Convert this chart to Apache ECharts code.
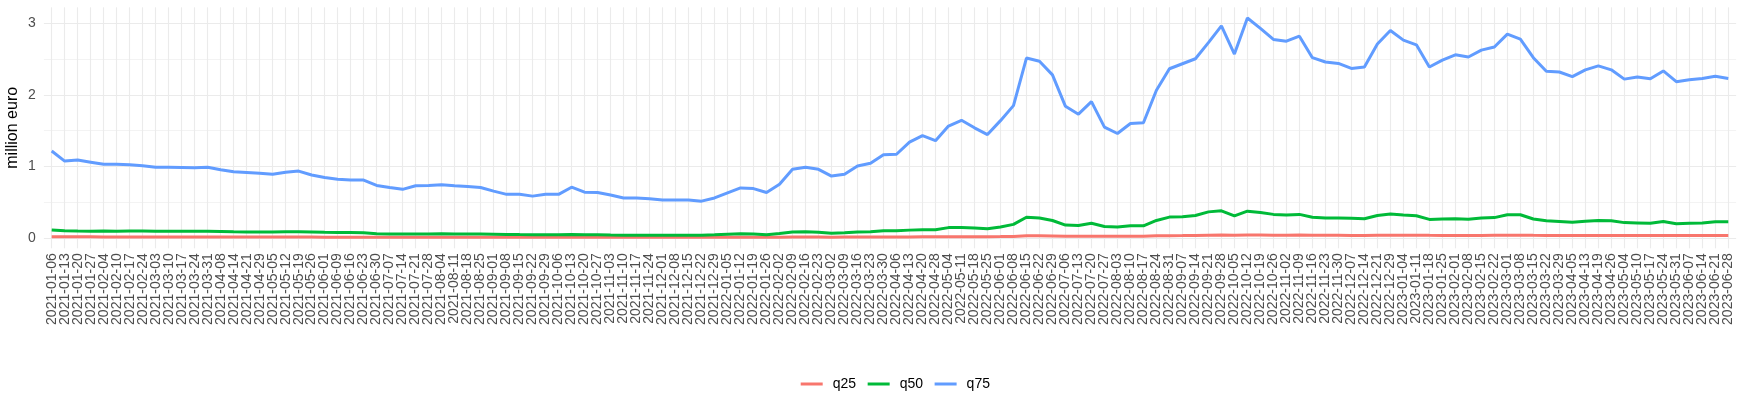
<!DOCTYPE html>
<html>
<head>
<meta charset="utf-8">
<script src="https://cdn.jsdelivr.net/npm/echarts@6/dist/echarts.min.js"></script>
<style>
html,body{margin:0;padding:0;background:#fff;}
#chart{width:1743px;height:414px;}
</style>
</head>
<body>
<div id="chart"></div>
<script>
const dates = [
"2021-01-06","2021-01-13","2021-01-20","2021-01-27","2021-02-04","2021-02-10","2021-02-17","2021-02-24",
"2021-03-03","2021-03-10","2021-03-17","2021-03-24","2021-03-31","2021-04-08","2021-04-14","2021-04-21","2021-04-29",
"2021-05-05","2021-05-12","2021-05-19","2021-05-26","2021-06-01","2021-06-09","2021-06-16","2021-06-23","2021-06-30",
"2021-07-07","2021-07-14","2021-07-21","2021-07-28","2021-08-04","2021-08-11","2021-08-18","2021-08-25",
"2021-09-01","2021-09-08","2021-09-15","2021-09-22","2021-09-29","2021-10-06","2021-10-13","2021-10-20","2021-10-27",
"2021-11-03","2021-11-10","2021-11-17","2021-11-24","2021-12-01","2021-12-08","2021-12-15","2021-12-22","2021-12-29",
"2022-01-05","2022-01-12","2022-01-19","2022-01-26","2022-02-02","2022-02-09","2022-02-16","2022-02-23",
"2022-03-02","2022-03-09","2022-03-16","2022-03-23","2022-03-30","2022-04-06","2022-04-13","2022-04-20","2022-04-28",
"2022-05-04","2022-05-11","2022-05-18","2022-05-25","2022-06-01","2022-06-08","2022-06-15","2022-06-22","2022-06-29",
"2022-07-06","2022-07-13","2022-07-20","2022-07-27","2022-08-03","2022-08-10","2022-08-17","2022-08-24","2022-08-31",
"2022-09-07","2022-09-14","2022-09-21","2022-09-28","2022-10-05","2022-10-12","2022-10-19","2022-10-26",
"2022-11-02","2022-11-09","2022-11-16","2022-11-23","2022-11-30","2022-12-07","2022-12-14","2022-12-21","2022-12-29",
"2023-01-04","2023-01-11","2023-01-18","2023-01-25","2023-02-01","2023-02-08","2023-02-15","2023-02-22",
"2023-03-01","2023-03-08","2023-03-15","2023-03-22","2023-03-29","2023-04-05","2023-04-13","2023-04-19","2023-04-26",
"2023-05-04","2023-05-10","2023-05-17","2023-05-24","2023-05-31","2023-06-07","2023-06-14","2023-06-21","2023-06-28"
];

const q25 = [
0.018,0.016,0.016,0.016,0.015,0.015,0.015,0.015,0.015,0.015,0.015,0.015,0.015,0.014,0.013,0.013,0.013,
0.013,0.014,0.014,0.013,0.012,0.012,0.012,0.012,0.011,0.010,0.010,0.010,0.010,0.010,0.010,0.010,0.010,
0.010,0.010,0.010,0.010,0.010,0.010,0.011,0.010,0.010,0.010,0.010,0.010,0.010,0.010,0.010,0.010,0.010,0.010,
0.011,0.011,0.011,0.011,0.012,0.013,0.013,0.013,0.012,0.013,0.014,0.014,0.014,0.015,0.015,0.016,0.016,
0.018,0.019,0.019,0.019,0.020,0.022,0.030,0.030,0.028,0.025,0.024,0.025,0.023,0.023,0.024,0.025,0.030,
0.033,0.034,0.036,0.040,0.042,0.038,0.042,0.041,0.040,0.040,0.041,0.038,0.037,0.037,0.036,0.036,0.038,0.040,
0.040,0.039,0.037,0.036,0.036,0.036,0.036,0.038,0.040,0.040,0.037,0.035,0.034,0.034,0.034,0.035,0.035,
0.034,0.034,0.034,0.035,0.034,0.034,0.034,0.035,0.035
];

const q50 = [
0.112,0.100,0.097,0.096,0.097,0.096,0.098,0.097,0.096,0.096,0.095,0.095,0.094,0.090,0.086,0.085,0.085,
0.085,0.087,0.088,0.084,0.080,0.077,0.076,0.074,0.060,0.056,0.055,0.056,0.057,0.058,0.056,0.055,0.055,
0.054,0.050,0.048,0.047,0.046,0.046,0.048,0.045,0.045,0.042,0.040,0.040,0.039,0.038,0.038,0.038,0.038,0.044,
0.052,0.058,0.055,0.047,0.063,0.085,0.086,0.080,0.066,0.075,0.085,0.086,0.100,0.101,0.110,0.115,0.115,
0.145,0.145,0.140,0.130,0.155,0.190,0.290,0.280,0.245,0.180,0.175,0.205,0.160,0.155,0.170,0.170,0.245,
0.292,0.298,0.315,0.365,0.380,0.310,0.375,0.355,0.330,0.320,0.330,0.290,0.280,0.280,0.275,0.270,0.315,0.335,
0.320,0.310,0.260,0.265,0.270,0.262,0.280,0.285,0.325,0.325,0.265,0.240,0.230,0.220,0.235,0.245,0.240,
0.215,0.210,0.205,0.230,0.200,0.205,0.210,0.228,0.228
];

const q75 = [
1.215,1.075,1.090,1.060,1.030,1.030,1.025,1.010,0.990,0.990,0.985,0.980,0.990,0.955,0.925,0.915,0.905,
0.890,0.920,0.935,0.880,0.845,0.820,0.810,0.810,0.735,0.705,0.680,0.730,0.735,0.745,0.730,0.720,0.705,
0.655,0.610,0.610,0.585,0.610,0.610,0.710,0.640,0.635,0.600,0.560,0.560,0.550,0.530,0.530,0.530,0.515,0.560,
0.630,0.700,0.690,0.635,0.750,0.960,0.990,0.960,0.865,0.890,1.005,1.045,1.165,1.170,1.340,1.430,1.360,
1.565,1.645,1.540,1.445,1.640,1.850,2.515,2.470,2.280,1.840,1.730,1.905,1.550,1.460,1.600,1.610,2.065,
2.365,2.435,2.505,2.730,2.965,2.570,3.075,2.930,2.775,2.750,2.820,2.520,2.460,2.440,2.370,2.390,2.710,2.900,
2.765,2.700,2.390,2.485,2.560,2.530,2.625,2.670,2.850,2.780,2.520,2.330,2.320,2.255,2.350,2.405,2.350,
2.220,2.250,2.225,2.335,2.185,2.210,2.230,2.260,2.230
];

const yTicks = [0, 1, 2, 3];
const seriesNames = ["q25", "q50", "q75"];
const seriesColors = ["#F8766D", "#00BA38", "#619CFF"];

const W = 1743, H = 414;
const panelTop = 7.3, panelBottom = 248.3;
const y0px = 238, unitPx = 71.57;
const font = "'Liberation Sans', Arial, Helvetica, sans-serif";

const chart = echarts.init(document.getElementById('chart'), null, {renderer: 'canvas'});
const seriesData = [q25, q50, q75];

const option = {
  animation: false,
  backgroundColor: '#ffffff',
  textStyle: {fontFamily: font},
  grid: [
    {left: 43.9, right: W - 1736.1, top: y0px - yTicks[yTicks.length-1]*unitPx, bottom: H - y0px, containLabel: false},
    {left: 51.7, right: W - 1728.3, top: panelTop, bottom: H - panelBottom, containLabel: false}
  ],
  xAxis: [
    {type: 'value', gridIndex: 0, min: 0, max: 1, show: false},
    {
      type: 'category', gridIndex: 1, data: dates, boundaryGap: false,
      axisLine: {show: false}, axisTick: {show: false},
      axisLabel: {rotate: 90, interval: 0, fontSize: 14, color: '#4D4D4D', margin: 5, fontFamily: font},
      splitLine: {show: true, interval: 0, lineStyle: {color: '#EBEBEB', width: 1.1}}
    }
  ],
  yAxis: [
    {
      type: 'value', gridIndex: 0, min: yTicks[0], max: yTicks[yTicks.length-1], interval: 1,
      axisLine: {show: false}, axisTick: {show: false},
      axisLabel: {fontSize: 14, color: '#4D4D4D', margin: 8, fontFamily: font},
      splitLine: {show: true, lineStyle: {color: '#EBEBEB', width: 1.1}},
      minorTick: {show: false, splitNumber: 2},
      minorSplitLine: {show: true, lineStyle: {color: '#EBEBEB', width: 0.6}}
    },
    {type: 'value', gridIndex: 1, min: -0.144, max: 3.224, show: false, splitLine: {show: false}}
  ],
  legend: {
    left: 800.7, top: 377, orient: 'horizontal', padding: 0,
    itemWidth: 22, itemHeight: 3, itemGap: 11.6, icon: 'rect',
    textStyle: {fontSize: 14, color: '#000', fontFamily: font, padding: [0, 0, 0, 5]},
    data: seriesNames
  },
  graphic: [{
    type: 'text', x: 13, y: (panelTop + panelBottom) / 2, rotation: Math.PI / 2,
    style: {text: 'million euro', fontSize: 16, fill: '#000', font: '16px ' + font, textAlign: 'center', textVerticalAlign: 'middle'}
  }],
  series: seriesNames.map((n, k) => ({
    name: n, type: 'line', xAxisIndex: 1, yAxisIndex: 1,
    data: seriesData[k], symbol: 'none', smooth: false,
    lineStyle: {color: seriesColors[k], width: 3},
    itemStyle: {color: seriesColors[k]}
  }))
};
chart.setOption(option);
</script>
</body>
</html>
